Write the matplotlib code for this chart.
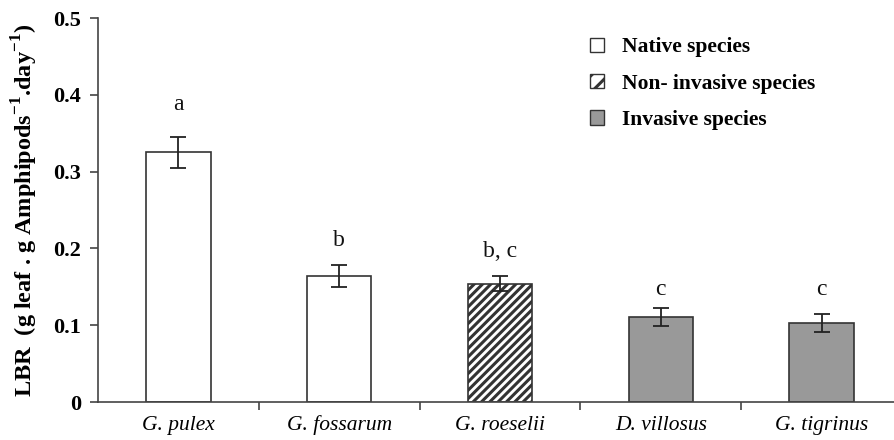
import matplotlib
matplotlib.use("Agg")
import matplotlib.pyplot as plt
from matplotlib.patches import Patch

species = ["G. pulex", "G. fossarum", "G. roeselii", "D. villosus", "G. tigrinus"]
lbr = [0.325, 0.164, 0.154, 0.111, 0.103]
err = [0.020, 0.014, 0.010, 0.012, 0.012]
letters = ["a", "b", "b, c", "c", "c"]
letter_y = [0.387, 0.210, 0.196, 0.147, 0.147]
groups = ["native", "native", "noninv", "invasive", "invasive"]
legend_labels = ["Native species", "Non- invasive species", "Invasive species"]
yticks = [0, 0.1, 0.2, 0.3, 0.4, 0.5]
ytick_labels = ["0", "0.1", "0.2", "0.3", "0.4", "0.5"]

plt.rcParams['font.family'] = ['Liberation Serif', 'DejaVu Serif']
plt.rcParams['hatch.linewidth'] = 2.2
plt.rcParams['mathtext.fontset'] = 'custom'
plt.rcParams['mathtext.rm'] = 'Liberation Serif'
plt.rcParams['mathtext.bf'] = 'Liberation Serif:bold'

style = {
    "native": dict(facecolor="white", hatch=None),
    "noninv": dict(facecolor="white", hatch="////"),
    "invasive": dict(facecolor="#999999", hatch=None),
}

fig = plt.figure(figsize=(8.94, 4.4), dpi=100)
ax = fig.add_axes([98/894, (440-402)/440, 1 - 98/894, (402-18)/440])

axcol = "#444444"
x = list(range(len(species)))
for i in x:
    st = style[groups[i]]
    ax.bar(i, lbr[i], width=0.4, facecolor=st["facecolor"], hatch=st["hatch"],
           edgecolor="#333333", linewidth=1.2, zorder=2)
ax.errorbar(x, lbr, yerr=err, fmt="none", ecolor="#222222", elinewidth=1.3,
            capsize=6, capthick=1.3, zorder=3)
for i in x:
    ax.text(i, letter_y[i], letters[i], ha="center", va="center", fontsize=17, color="#111111")

ax.set_xlim(-0.5, 4.45)
ax.set_ylim(0, 0.5)
ax.set_yticks(yticks)
ax.set_yticklabels(ytick_labels, fontweight="bold", fontsize=16)
ax.set_xticks([i + 0.5 for i in range(len(species) - 1)])
ax.set_xticklabels([])
ax.set_xticks(x, minor=True)
ax.set_xticklabels(species, minor=True, fontstyle="italic", fontsize=15.5)
for lab in ax.get_xticklabels(minor=True):
    lab.set_verticalalignment("baseline")
ax.tick_params(axis="x", which="minor", length=0, pad=20)
ax.tick_params(axis="x", which="major", length=6, direction="out", color=axcol, width=1.2)
ax.tick_params(axis="y", length=6, direction="out", color=axcol, width=1.2, pad=6)
for s in ["top", "right"]:
    ax.spines[s].set_visible(False)
for s in ["left", "bottom"]:
    ax.spines[s].set_color(axcol)
    ax.spines[s].set_linewidth(1.2)

ax.set_ylabel(r"LBR  (g leaf . g Amphipods$^{\mathbf{-1}}$.day$^{\mathbf{-1}}$)",
              fontweight="bold", fontsize=17.5, labelpad=10)

handles = [
    Patch(facecolor="white", edgecolor="#333333", label=legend_labels[0]),
    Patch(facecolor="white", edgecolor="#333333", hatch="//", label=legend_labels[1]),
    Patch(facecolor="#999999", edgecolor="#333333", label=legend_labels[2]),
]
ax.legend(handles=handles, loc="upper left", bbox_to_anchor=(0.594, 1.0), frameon=False,
          prop={"weight": "bold", "size": 15.5}, handlelength=0.65, handleheight=0.65,
          handletextpad=0.85, labelspacing=0.76)

fig.savefig("out.png", dpi=100)
